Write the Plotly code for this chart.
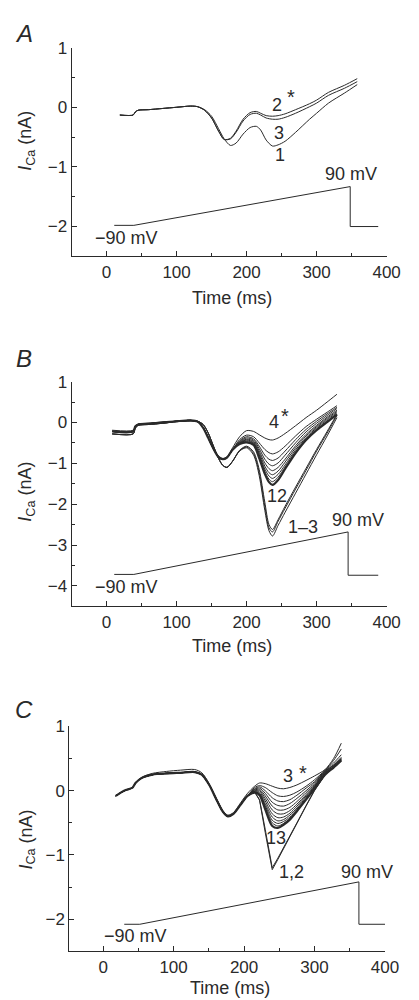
import plotly.graph_objects as go

# ---------------- Panel A ----------------
A_t = [19, 38, 41, 45, 60, 80, 100, 120, 130, 140, 150, 160, 168, 177, 185, 195, 205, 214, 220, 228,
       237, 245, 255, 270, 290, 300, 317, 340, 358]
A_1 = [-0.13, -0.13, -0.08, -0.05, -0.04, -0.02, 0.0, 0.02, 0.01, -0.04, -0.15, -0.36, -0.53, -0.64, -0.6,
       -0.45, -0.34, -0.32, -0.38, -0.55, -0.65, -0.63, -0.57, -0.42, -0.2, -0.1, 0.07, 0.24, 0.38]
A_2 = [-0.13, -0.13, -0.08, -0.05, -0.04, -0.02, 0.0, 0.02, 0.01, -0.05, -0.18, -0.4, -0.54, -0.52, -0.4,
       -0.2, -0.09, -0.07, -0.1, -0.14, -0.15, -0.14, -0.11, -0.04, 0.06, 0.12, 0.25, 0.37, 0.48]
A_3 = [-0.13, -0.13, -0.08, -0.05, -0.04, -0.02, 0.0, 0.02, 0.01, -0.05, -0.18, -0.4, -0.54, -0.53, -0.42,
       -0.23, -0.12, -0.1, -0.13, -0.18, -0.2, -0.2, -0.17, -0.1, 0.01, 0.07, 0.2, 0.32, 0.43]
A_Vt = [11, 39, 348, 348, 388]
A_V = [-1.98, -1.98, -1.33, -2.0, -2.0]

# ---------------- Panel B ----------------
B_t = [8, 38, 41, 45, 60, 80, 100, 120, 130, 138, 145, 152, 160, 166, 172, 180, 190, 200, 210, 218,
       226, 232, 237, 245, 255, 270, 285, 300, 315, 329]
B_early = {
    "4": [-0.19, -0.19, -0.1, -0.04, -0.02, 0.01, 0.03, 0.05, 0.02, -0.12, -0.35, -0.6, -0.82, -0.88, -0.84, -0.62],
    "mid": [-0.22, -0.22, -0.1, -0.05, -0.03, 0.0, 0.03, 0.05, 0.02, -0.13, -0.37, -0.62, -0.85, -0.9, -0.86, -0.67],
    "deep": [-0.28, -0.28, -0.14, -0.07, -0.05, -0.02, 0.02, 0.04, 0.03, -0.05, -0.25, -0.55, -0.88, -1.05, -1.1, -0.95],
}
B_4 = B_early["4"] + [-0.35, -0.2, -0.22, -0.3, -0.38, -0.42, -0.43, -0.38, -0.27, -0.08, 0.12, 0.3, 0.5, 0.69]
B_5 = B_early["mid"] + [-0.42, -0.31, -0.35, -0.5, -0.66, -0.74, -0.77, -0.72, -0.58, -0.33, -0.1, 0.08, 0.25, 0.41]
B_6 = B_early["mid"] + [-0.45, -0.35, -0.4, -0.58, -0.8, -0.9, -0.93, -0.87, -0.7, -0.42, -0.17, 0.03, 0.21, 0.37]
B_7 = B_early["mid"] + [-0.47, -0.38, -0.43, -0.64, -0.9, -1.02, -1.06, -0.99, -0.8, -0.5, -0.23, -0.02, 0.17, 0.34]
B_8 = B_early["mid"] + [-0.49, -0.41, -0.46, -0.7, -0.99, -1.13, -1.18, -1.1, -0.9, -0.57, -0.29, -0.07, 0.13, 0.3]
B_9 = B_early["mid"] + [-0.5, -0.43, -0.49, -0.75, -1.07, -1.23, -1.28, -1.19, -0.97, -0.62, -0.33, -0.1, 0.1, 0.27]
B_10 = B_early["mid"] + [-0.51, -0.45, -0.51, -0.79, -1.14, -1.31, -1.37, -1.27, -1.04, -0.67, -0.37, -0.13, 0.07, 0.24]
B_11 = B_early["mid"] + [-0.52, -0.47, -0.53, -0.83, -1.2, -1.39, -1.45, -1.34, -1.09, -0.71, -0.4, -0.16, 0.04, 0.21]
B_12 = B_early["mid"] + [-0.53, -0.49, -0.55, -0.87, -1.26, -1.46, -1.53, -1.41, -1.14, -0.75, -0.43, -0.19, 0.01, 0.19]
B_1 = B_early["deep"] + [-0.7, -0.62, -0.8, -1.3, -2.15, -2.65, -2.78, -2.52, -2.2, -1.73, -1.26, -0.79, -0.33, 0.12]
B_2 = B_early["deep"] + [-0.69, -0.6, -0.76, -1.22, -2.05, -2.58, -2.68, -2.42, -2.1, -1.63, -1.17, -0.7, -0.26, 0.17]
B_3 = B_early["deep"] + [-0.68, -0.58, -0.72, -1.15, -1.95, -2.5, -2.62, -2.38, -2.05, -1.58, -1.12, -0.66, -0.22, 0.2]
B_Vt = [11, 39, 345, 345, 388]
B_V = [-3.72, -3.72, -2.68, -3.74, -3.74]

# ---------------- Panel C ----------------
C_t = [18, 25, 32, 38, 42, 46, 55, 70, 90, 110, 130, 140, 150, 160, 170, 177, 185, 195, 205,
       215, 222, 230, 240, 248, 256, 265, 275, 288, 300, 315, 327, 338]
C_early = [-0.08, -0.03, 0.01, 0.03, 0.05, 0.12, 0.2, 0.25, 0.27, 0.28, 0.29, 0.25, 0.1, -0.12, -0.33,
           -0.4, -0.36, -0.22, -0.08]
C_early_top = [-0.08, -0.03, 0.01, 0.03, 0.05, 0.13, 0.21, 0.27, 0.3, 0.32, 0.33, 0.28, 0.12, -0.1, -0.31,
               -0.38, -0.34, -0.19, -0.04]
C_3 = C_early_top + [0.07, 0.12, 0.11, 0.07, 0.04, 0.03, 0.05, 0.09, 0.16, 0.23, 0.33, 0.5, 0.74]
C_4 = C_early + [0.05, 0.08, 0.05, -0.03, -0.08, -0.09, -0.07, -0.02, 0.07, 0.17, 0.32, 0.47, 0.65]
C_5 = C_early + [0.03, 0.06, 0.0, -0.11, -0.16, -0.17, -0.14, -0.07, 0.04, 0.14, 0.31, 0.43, 0.56]
C_6 = C_early + [0.02, 0.04, -0.04, -0.18, -0.23, -0.24, -0.2, -0.12, 0.0, 0.12, 0.3, 0.4, 0.52]
C_7 = C_early + [0.01, 0.02, -0.08, -0.24, -0.3, -0.3, -0.26, -0.17, -0.03, 0.1, 0.3, 0.4, 0.5]
C_8 = C_early + [0.0, 0.0, -0.12, -0.3, -0.36, -0.36, -0.31, -0.21, -0.06, 0.08, 0.29, 0.39, 0.5]
C_9 = C_early + [-0.01, -0.02, -0.16, -0.36, -0.42, -0.41, -0.35, -0.24, -0.08, 0.07, 0.28, 0.38, 0.49]
C_10 = C_early + [-0.02, -0.04, -0.2, -0.41, -0.47, -0.45, -0.38, -0.27, -0.1, 0.06, 0.27, 0.37, 0.48]
C_11 = C_early + [-0.02, -0.05, -0.23, -0.46, -0.51, -0.48, -0.41, -0.29, -0.12, 0.05, 0.27, 0.37, 0.48]
C_12 = C_early + [-0.03, -0.06, -0.26, -0.5, -0.55, -0.51, -0.43, -0.31, -0.13, 0.04, 0.26, 0.36, 0.47]
C_13 = C_early + [-0.03, -0.07, -0.29, -0.55, -0.58, -0.53, -0.45, -0.32, -0.14, 0.03, 0.25, 0.36, 0.47]
C_1 = C_early + [-0.02, -0.15, -0.65, -1.23, -1.07, -0.9, -0.72, -0.51, -0.24, 0.0, 0.25, 0.36, 0.47]
C_2 = C_early + [-0.02, -0.14, -0.6, -1.2, -1.05, -0.88, -0.7, -0.5, -0.23, 0.01, 0.25, 0.36, 0.47]
C_Vt = [30, 52, 363, 363, 405]
C_V = [-2.08, -2.08, -1.42, -2.08, -2.08]

x_ticks = [0, 100, 200, 300, 400]
A_yticks = [1, 0, -1, -2]
B_yticks = [1, 0, -1, -2, -3, -4]
C_yticks = [1, 0, -1, -2]

INK = "#2a2a2a"
FONT = "Liberation Sans, Arial, sans-serif"
TICK_SIZE = 17
TEXT_SIZE = 18

fig = go.Figure()


def add_line(t, v, ax, width=1.0, shape="spline", color=INK):
    fig.add_trace(go.Scatter(x=t, y=v, mode="lines", xaxis=ax[0], yaxis=ax[1],
                             line=dict(color=color, width=width, shape=shape, smoothing=0.8),
                             hoverinfo="skip", showlegend=False))


axA = ("x", "y")
axB = ("x2", "y2")
axC = ("x3", "y3")

for v in [A_1, A_3, A_2]:
    add_line(A_t, v, axA)
add_line(A_Vt, A_V, axA, shape="linear")

for v in [B_1, B_2, B_3, B_5, B_6, B_7, B_8, B_9, B_10, B_11, B_4]:
    add_line(B_t, v, axB)
add_line(B_t, B_12, axB, width=2.2)
add_line(B_Vt, B_V, axB, shape="linear")

for v in [C_3, C_4, C_5, C_6, C_7, C_8, C_9, C_10, C_11, C_12]:
    add_line(C_t, v, axC)
add_line(C_t, C_13, axC, width=2.2)
add_line(C_t, C_1, axC, shape="linear")
add_line(C_t, C_2, axC, shape="linear")
add_line(C_Vt, C_V, axC, shape="linear")


def xaxis(domain, rng, anchor):
    return dict(domain=domain, range=rng, anchor=anchor, showgrid=False, zeroline=False,
                showline=True, linecolor=INK, linewidth=1, ticks="inside", ticklen=5,
                tickcolor=INK, tickvals=x_ticks, tickfont=dict(family=FONT, size=TICK_SIZE, color=INK),
                minor=dict(dtick=50, tick0=0, ticks="inside", ticklen=3, tickcolor=INK),
                fixedrange=True)


def yaxis(domain, rng, anchor, ticks):
    return dict(domain=domain, range=rng, anchor=anchor, showgrid=False, zeroline=False,
                showline=True, linecolor=INK, linewidth=1, ticks="inside", ticklen=5,
                tickcolor=INK, tickvals=ticks, tickfont=dict(family=FONT, size=TICK_SIZE, color=INK),
                minor=dict(dtick=0.5, tick0=0, ticks="inside", ticklen=3, tickcolor=INK),
                fixedrange=True)


fig.update_layout(
    width=419, height=1000, margin=dict(l=0, r=0, t=0, b=0),
    paper_bgcolor="white", plot_bgcolor="white",
    xaxis=xaxis([74 / 419, 400 / 419], [-50, 400], "y"),
    yaxis=yaxis([0.7504, 0.961], [-2.5, 1], "x", A_yticks),
    xaxis2=xaxis([74 / 419, 400 / 419], [-50, 400], "y2"),
    yaxis2=yaxis([0.3973, 0.624], [-4.5, 1], "x2", B_yticks),
    xaxis3=xaxis([71.7 / 419, 398.3 / 419], [-48, 400], "y3"),
    yaxis3=yaxis([0.0492, 0.276], [-2.5, 1], "x3", C_yticks),
)

ann = []


def txt(x, y, s, xref, yref, size=TEXT_SIZE, style="normal", **kw):
    ann.append(dict(x=x, y=y, text=s, xref=xref, yref=yref, showarrow=False,
                    xanchor="center", yanchor="middle",
                    font=dict(family=FONT, size=size, color=INK, style=style), **kw))


# panel letters
for (py, s) in [(0.975, "A"), (0.647, "B"), (0.293, "C")]:
    txt(25 / 419, py, s, "paper", "paper", size=24, style="italic")

# y titles and x titles (paper coords)
ytitle = "<i>I</i><sub>Ca</sub> (nA)"
for py in [1 - 133 / 1000, 1 - 487 / 1000, 1 - 838 / 1000]:
    txt(28 / 419, py, ytitle, "paper", "paper", size=TEXT_SIZE, textangle=-90)
for (px, py) in [(240, 292), (240, 643), (238, 988)]:
    txt(px / 419, 1 - py / 1000, "Time (ms)", "paper", "paper", size=TEXT_SIZE)

# Panel A labels
txt(244, 0.03, "2", "x", "y")
txt(264, 0.17, "*", "x", "y", size=20)
txt(247, -0.43, "3", "x", "y")
txt(248, -0.8, "1", "x", "y")
txt(349, -1.12, "90 mV", "x", "y")
txt(28, -2.19, "\u221290 mV", "x", "y")

# Panel B labels
txt(239, 0.0, "4", "x2", "y2")
txt(255, 0.16, "*", "x2", "y2", size=20)
txt(244, -1.81, "12", "x2", "y2")
txt(280, -2.56, "1\u20133", "x2", "y2")
txt(359, -2.4, "90 mV", "x2", "y2")
txt(28, -4.02, "\u221290 mV", "x2", "y2")

# Panel C labels
txt(263, 0.23, "3", "x3", "y3")
txt(283, 0.28, "*", "x3", "y3", size=20)
txt(245, -0.74, "13", "x3", "y3")
txt(267, -1.26, "1,2", "x3", "y3")
txt(375, -1.26, "90 mV", "x3", "y3")
txt(46, -2.26, "\u221290 mV", "x3", "y3")

fig.update_layout(annotations=ann)
fig.write_html("out.html", config={"displayModeBar": False},
               post_script="document.body.style.margin='0';document.body.style.overflow='hidden';")
